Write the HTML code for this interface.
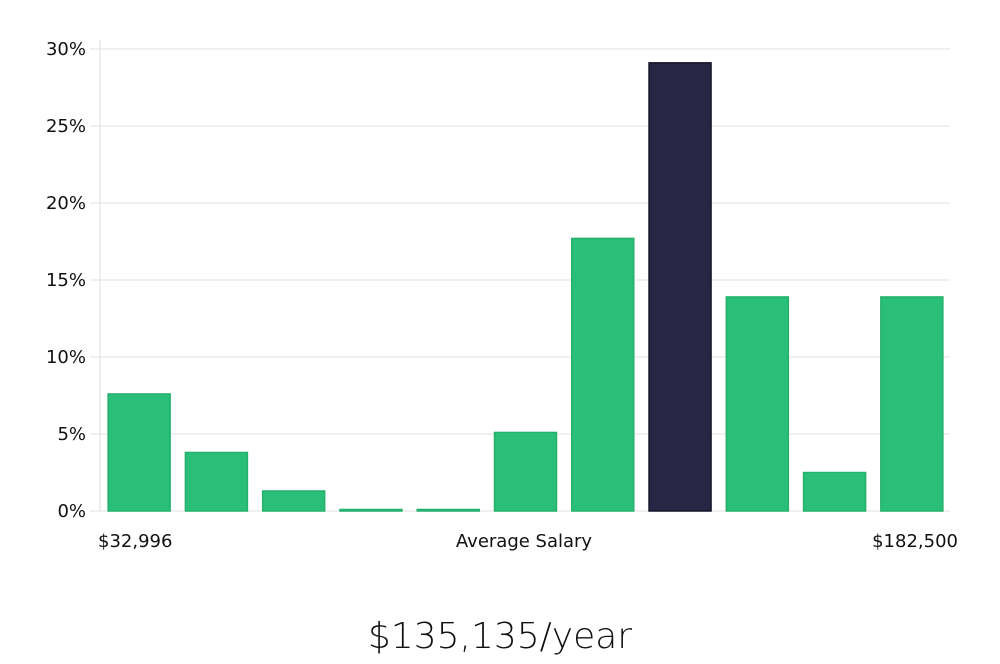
<!DOCTYPE html>
<html><head><meta charset="utf-8"><style>
body{margin:0;background:#fff;width:1000px;height:660px;overflow:hidden;font-family:"DejaVu Sans","Liberation Sans",sans-serif;}
</style></head><body>
<svg id="chart" width="1000" height="660" xmlns="http://www.w3.org/2000/svg">
<g id="grid"></g>
<g id="yticks"></g>
<g id="bars"></g>
<line x1="100" y1="40" x2="100" y2="511" stroke="#ddd" stroke-width="1"/>
<text x="98" y="547" font-size="18" fill="#111">$32,996</text>
<text x="524" y="547" font-size="18" fill="#111" text-anchor="middle">Average Salary</text>
<text x="958" y="547" font-size="18" fill="#111" text-anchor="end">$182,500</text>
<text x="500" y="648" font-size="36" fill="#111" text-anchor="middle" font-weight="300">$135,135/year</text>
</svg>
<script>
const categories=["b1","b2","b3","b4","b5","b6","b7","b8","b9","b10","b11"];
const values=[7.6,3.8,1.3,0.05,0.05,5.1,17.7,29.1,13.9,2.5,13.9];
const highlight=[false,false,false,false,false,false,false,true,false,false,false];
const yTicks=[0,5,10,15,20,25,30];
const yTickLabels=["0%","5%","10%","15%","20%","25%","30%"];
const NS="http://www.w3.org/2000/svg";
const x0=100,x1=950,yBase=511,yTop=49,yMax=30;
const y=v=>yBase-(v/yMax)*(yBase-yTop);
const slot=(x1-x0)/categories.length;
const xs=i=>x0+i*slot+(slot-63)/2+1;
const grid=document.getElementById('grid'),yt=document.getElementById('yticks'),bars=document.getElementById('bars');
yTicks.forEach((t,i)=>{
 const l=document.createElementNS(NS,'line');
 
 
 l.setAttribute('x1',x0-10);l.setAttribute('x2',x1);l.setAttribute('y1',y(t));l.setAttribute('y2',y(t));
 l.setAttribute('stroke','#e2e2e2');grid.appendChild(l);
 const tx=document.createElementNS(NS,'text');
 
 
 tx.setAttribute('x',86);tx.setAttribute('y',y(t)+6);tx.setAttribute('text-anchor','end');
 tx.setAttribute('font-size','18');tx.setAttribute('fill','#111');tx.textContent=yTickLabels[i];yt.appendChild(tx);
});
values.forEach((v,i)=>{
 const r=document.createElementNS(NS,'rect');
 
 
 const top=y(v);
 r.setAttribute('x',xs(i));r.setAttribute('width',62);
 r.setAttribute('y',Math.min(top,yBase-1.5));r.setAttribute('height',Math.max(yBase-top,1.5));
 r.setAttribute('fill',highlight[i]?'#272645':'#2abf78');
 r.setAttribute('stroke',highlight[i]?'#15142a':'#24b06d');r.setAttribute('stroke-width','1.5');
 bars.appendChild(r);
});
</script>
</body></html>
